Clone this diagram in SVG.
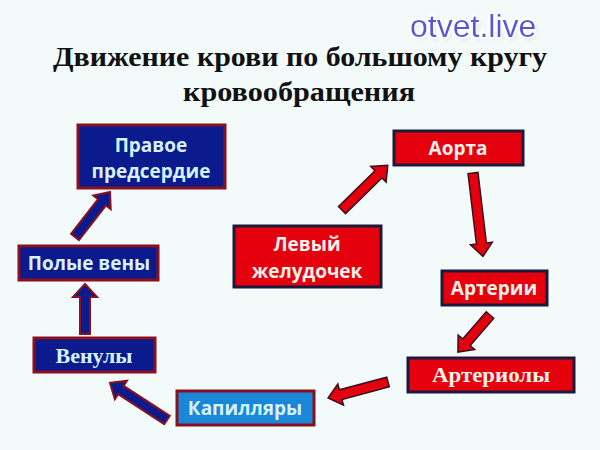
<svg xmlns="http://www.w3.org/2000/svg" width="600" height="450" viewBox="0 0 600 450">
<defs>
<filter id="glow" x="-10%" y="-30%" width="120%" height="160%">
<feMorphology in="SourceAlpha" operator="dilate" radius="1.5" result="d"/>
<feGaussianBlur in="d" stdDeviation="1" result="b"/>
<feFlood flood-color="#ffffff"/>
<feComposite in2="b" operator="in" result="w"/>
<feOffset in="SourceAlpha" dx="2" dy="2" result="o"/>
<feGaussianBlur in="o" stdDeviation="1.5" result="ob"/>
<feFlood flood-color="#9a9aa8" flood-opacity="0.7"/>
<feComposite in2="ob" operator="in" result="sh"/>
<feMerge><feMergeNode in="sh"/><feMergeNode in="w"/><feMergeNode in="SourceGraphic"/></feMerge>
</filter>
</defs>
<style>
.title{font-family:"Liberation Serif","Times New Roman",serif;font-weight:bold;font-size:27px;fill:#111;text-anchor:middle}
.wm{font-family:"Liberation Sans",Arial,sans-serif;font-size:32px;fill:#5656d8}
.blue{fill:#0b1a8c;stroke:#8a1020;stroke-width:3}
.red{fill:#e4000c;stroke:#1c1a3c;stroke-width:3}
.cap{fill:#1a86d6;stroke:#8a1020;stroke-width:3}
.t{font-family:"Open Sans","Liberation Sans",sans-serif;font-weight:bold;font-size:19px;text-anchor:middle}
.ts{font-family:"Liberation Serif","Times New Roman",serif;font-weight:bold;font-size:22px;text-anchor:middle}
.lb{fill:#d6f2ff}
.lr{fill:#fff2ea}
.ab{fill:#0b1a8c;stroke:#8a1020;stroke-width:2;stroke-linejoin:miter}
.ar{fill:#e4000c;stroke:#3a1020;stroke-width:1.5;stroke-linejoin:miter}
</style>
<rect width="600" height="450" fill="#f3fafa"/>
<text class="wm" x="410" y="37" filter="url(#glow)">otvet.live</text>
<text class="title" x="300" y="66" textLength="494" lengthAdjust="spacingAndGlyphs">Движение крови по большому кругу</text>
<text class="title" x="299" y="101" textLength="232" lengthAdjust="spacingAndGlyphs">кровообращения</text>

<g id="connectors">
<g transform="translate(85,334) rotate(-90)"><polygon class="ab" points="0,-5 37,-5 37,-12 50,0 37,12 37,5 0,5"/></g>
<g transform="translate(75,237) rotate(-52.1)"><polygon class="ab" points="0,-5 44,-5 44,-11 57,0 44,11 44,5 0,5"/></g>
<g transform="translate(167,420) rotate(-147)"><polygon class="ab" points="0,-5 55,-5 55,-11 68,0 55,11 55,5 0,5"/></g>
<g transform="translate(388,382) rotate(165.1)"><polygon class="ar" points="0,-5 49,-5 49,-11 62,0 49,11 49,5 0,5"/></g>
<g transform="translate(490,315) rotate(130.9)"><polygon class="ar" points="0,-5 36,-5 36,-11 49,0 36,11 36,5 0,5"/></g>
<g transform="translate(473,173) rotate(83.2)"><polygon class="ar" points="0,-5 71,-5 71,-11 84,0 71,11 71,5 0,5"/></g>
<g transform="translate(342,210) rotate(-44.4)"><polygon class="ar" points="0,-5 51,-5 51,-11 64,0 51,11 51,5 0,5"/></g>
</g>

<g id="pravoe">
<rect class="blue" x="78" y="125" width="147" height="63"/>
<text class="t lb" x="151" y="152">Правое</text>
<text class="t lb" x="151" y="178">предсердие</text>
</g>
<g id="polye">
<rect class="blue" x="19" y="246" width="139" height="34"/>
<text class="t lb" x="89" y="270">Полые вены</text>
</g>
<g id="venuly">
<rect class="blue" x="34" y="338" width="121" height="34"/>
<text class="ts lb" x="94" y="363">Венулы</text>
</g>
<g id="kapillary">
<rect class="cap" x="177" y="391" width="137" height="34"/>
<text class="t lb" x="245" y="415">Капилляры</text>
</g>
<g id="arterioly">
<rect class="red" x="408" y="358" width="166" height="34"/>
<text class="ts lr" x="491" y="382" textLength="118" lengthAdjust="spacingAndGlyphs">Артериолы</text>
</g>
<g id="arterii">
<rect class="red" x="442" y="271" width="105" height="34"/>
<text class="t lr" x="494" y="295">Артерии</text>
</g>
<g id="aorta">
<rect class="red" x="394" y="131" width="129" height="34"/>
<text class="t lr" x="458" y="155">Аорта</text>
</g>
<g id="levyi">
<rect class="red" x="234" y="226" width="147" height="61"/>
<text class="t lr" x="307" y="251">Левый</text>
<text class="t lr" x="307" y="278">желудочек</text>
</g>
</svg>
